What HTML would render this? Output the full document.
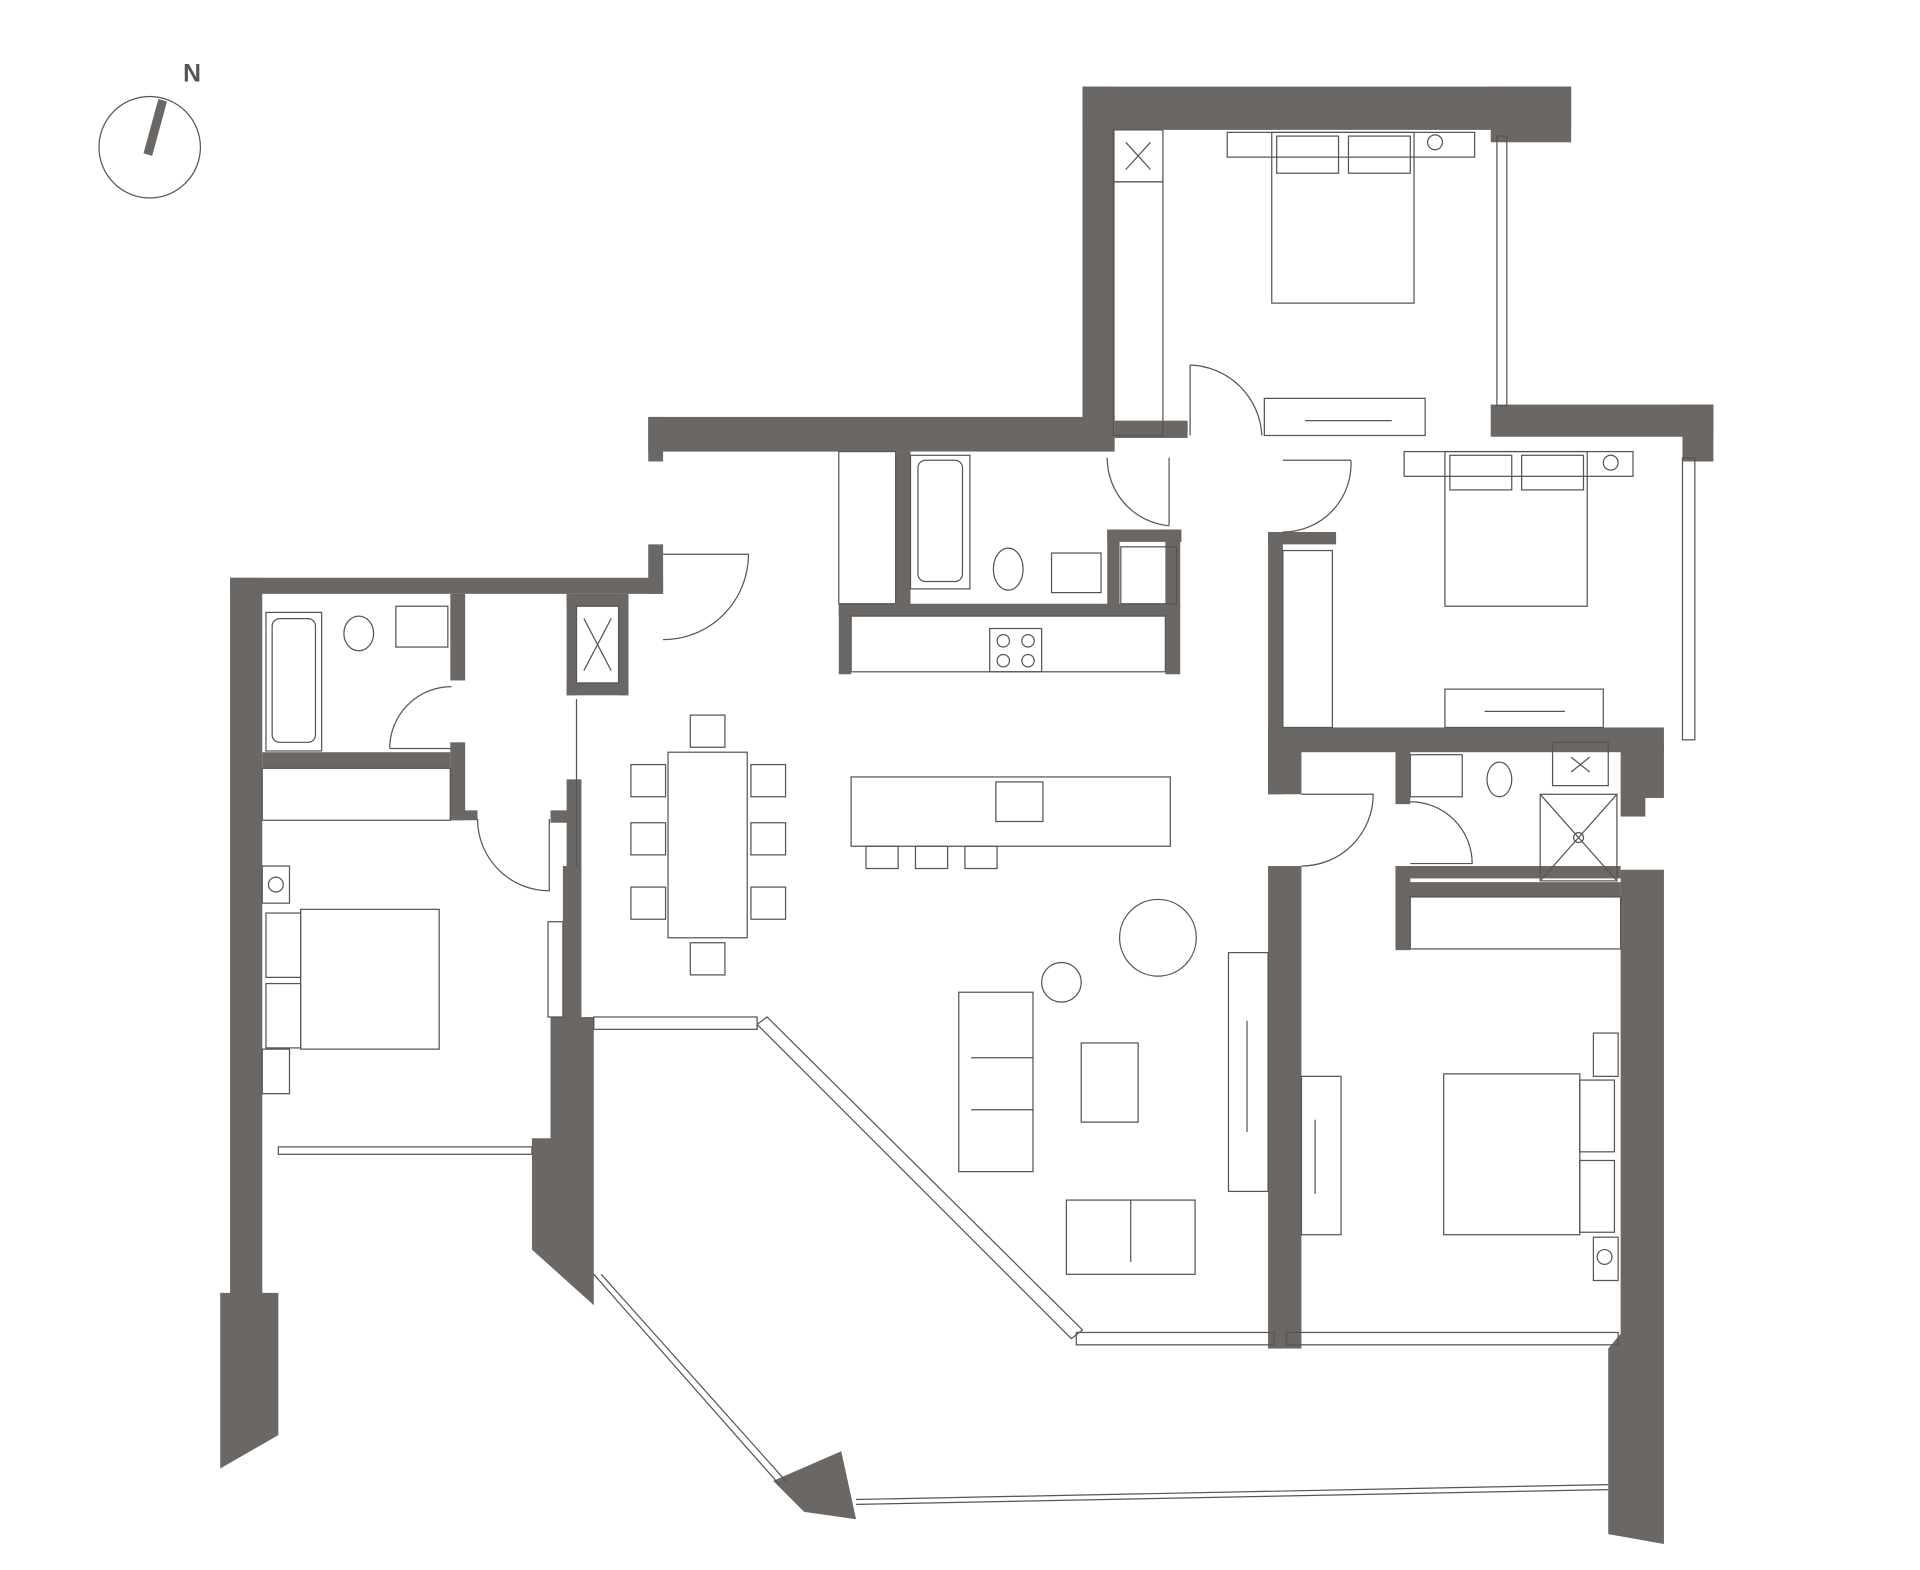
<!DOCTYPE html>
<html><head><meta charset="utf-8"><style>html,body{margin:0;padding:0;background:#fff}svg{display:block}</style></head><body>
<svg width="1920" height="1570" viewBox="0 0 1552 1269" preserveAspectRatio="none" xmlns="http://www.w3.org/2000/svg">
<g fill="#6b6764" stroke="none">
<rect x="875" y="70" width="395" height="35"/>
<rect x="1205" y="70" width="65" height="45"/>
<rect x="875" y="70" width="26" height="282"/>
<rect x="524" y="337" width="377" height="28"/>
<rect x="524" y="337" width="12" height="36"/>
<rect x="901" y="340" width="59" height="14"/>
<rect x="1205" y="327" width="180" height="26"/>
<rect x="1360" y="327" width="25" height="46"/>
<rect x="524" y="440" width="12" height="40"/>
<rect x="186" y="467" width="350" height="13"/>
<rect x="186" y="467" width="26" height="580"/>
<polygon points="178,1045 225,1045 225,1160 178,1187"/>
<rect x="212" y="608" width="152" height="13"/>
<rect x="364" y="480" width="12" height="70"/>
<rect x="364" y="600" width="12" height="63"/>
<rect x="364" y="655" width="22" height="8"/>
<rect x="458" y="480" width="50" height="10"/>
<rect x="458" y="480" width="8" height="82"/>
<rect x="500" y="480" width="8" height="82"/>
<rect x="458" y="552" width="50" height="10"/>
<rect x="445" y="655" width="14" height="10"/>
<polygon points="458,630 470,630 470,822 480,822 480,1055 430,1010 430,920 445,920 445,822 455,822 455,700 458,700"/>
<rect x="678" y="488" width="270" height="10"/>
<rect x="678" y="488" width="10" height="57"/>
<rect x="942" y="488" width="12" height="57"/>
<rect x="724" y="365" width="12" height="125"/>
<rect x="895" y="428" width="60" height="10"/>
<rect x="895" y="428" width="10" height="62"/>
<rect x="942" y="428" width="12" height="62"/>
<rect x="1025" y="430" width="55" height="10"/>
<rect x="1025" y="430" width="12" height="212"/>
<rect x="1025" y="588" width="320" height="20"/>
<rect x="1025" y="588" width="27" height="54"/>
<rect x="1128" y="600" width="12" height="50"/>
<rect x="1320" y="600" width="25" height="45"/>
<rect x="1310" y="600" width="20" height="60"/>
<rect x="1025" y="700" width="27" height="390"/>
<rect x="1128" y="700" width="182" height="10"/>
<rect x="1128" y="700" width="12" height="68"/>
<rect x="1128" y="713" width="182" height="12"/>
<polygon points="1310,703 1345,703 1345,1248 1300,1240 1300,1090 1310,1078"/>
<polygon points="625,1197 680,1173 692,1228 650,1222"/>
<polygon points="128,80 135,82 123,126 116,124"/>
</g>
<g fill="none" stroke="#555" stroke-width="1">
<circle cx="121" cy="119" r="41"/>
<rect x="1210" y="110" width="8" height="218"/>
<rect x="1360" y="370" width="10" height="228"/>
<rect x="225" y="927" width="205" height="6"/>
<rect x="480" y="822" width="132" height="10"/>
<polygon points="612,828 620,822 875,1075 866,1082"/>
<rect x="870" y="1077" width="160" height="10"/>
<rect x="1040" y="1077" width="268" height="10"/>
<line x1="480" y1="1030" x2="630" y2="1200"/><line x1="486" y1="1030" x2="636" y2="1198"/>
<line x1="692" y1="1212" x2="1300" y2="1200"/><line x1="692" y1="1216" x2="1300" y2="1204"/>
<line x1="466" y1="565" x2="466" y2="700"/>
<path d="M536 448 L605 448 A69 69 0 0 1 536 517"/>
<path d="M962 295 L962 352 M962 295 A60 60 0 0 1 1020 352"/>
<path d="M895 370 A55 55 0 0 0 945 425 M945 370 L945 425"/>
<path d="M1092 372 A55 55 0 0 1 1037 430 M1037 372 L1092 372"/>
<path d="M365 555 A50 50 0 0 0 315 605 M315 605 L365 605"/>
<path d="M386 662 A58 58 0 0 0 444 720 L444 662"/>
<path d="M1052 700 A58 58 0 0 0 1110 642 L1052 642"/>
<path d="M1140 648 A50 50 0 0 1 1190 698 L1140 698"/>
<rect x="900" y="105" width="40" height="42"/><path d="M910 115 L930 137 M930 115 L910 137"/>
<rect x="900" y="147" width="40" height="205"/>
<rect x="992" y="107" width="200" height="20"/>
<rect x="1028" y="107" width="115" height="138"/>
<rect x="1032" y="110" width="50" height="30"/><rect x="1090" y="110" width="50" height="30"/>
<circle cx="1160" cy="115" r="6"/>
<rect x="1022" y="322" width="130" height="30"/><line x1="1055" y1="340" x2="1125" y2="340"/>
<rect x="1135" y="365" width="185" height="20"/>
<rect x="1168" y="365" width="115" height="125"/>
<rect x="1172" y="368" width="50" height="28"/><rect x="1230" y="368" width="50" height="28"/>
<circle cx="1302" cy="374" r="6"/>
<rect x="1037" y="445" width="40" height="143"/>
<rect x="1168" y="557" width="128" height="31"/><line x1="1200" y1="575" x2="1265" y2="575"/>
<rect x="678" y="365" width="46" height="123"/>
<rect x="736" y="368" width="48" height="108"/><rect x="742" y="372" width="36" height="98" rx="6"/>
<ellipse cx="815" cy="460" rx="12" ry="17"/>
<rect x="850" y="447" width="40" height="32"/>
<rect x="906" y="442" width="45" height="46"/>
<rect x="688" y="498" width="254" height="45"/>
<rect x="800" y="508" width="42" height="35"/>
<circle cx="811" cy="518" r="5"/><circle cx="831" cy="518" r="5"/><circle cx="811" cy="534" r="5"/><circle cx="831" cy="534" r="5"/>
<rect x="215" y="495" width="45" height="112"/><rect x="220" y="500" width="35" height="100" rx="6"/>
<ellipse cx="290" cy="512" rx="12" ry="14"/>
<rect x="320" y="490" width="42" height="33"/>
<rect x="466" y="490" width="34" height="62"/>
<path d="M472 500 L494 542 M494 500 L472 542"/>
<rect x="212" y="621" width="152" height="42"/>
<rect x="243" y="735" width="112" height="113"/>
<rect x="215" y="738" width="28" height="52"/><rect x="215" y="795" width="28" height="52"/>
<rect x="212" y="700" width="22" height="30"/><circle cx="223" cy="715" r="6"/>
<rect x="212" y="848" width="22" height="36"/>
<rect x="443" y="745" width="12" height="77"/>
<rect x="540" y="608" width="64" height="150"/>
<rect x="558" y="578" width="28" height="26"/><rect x="558" y="762" width="28" height="26"/>
<rect x="510" y="618" width="28" height="26"/><rect x="510" y="665" width="28" height="26"/><rect x="510" y="717" width="28" height="26"/>
<rect x="607" y="618" width="28" height="26"/><rect x="607" y="665" width="28" height="26"/><rect x="607" y="717" width="28" height="26"/>
<rect x="688" y="628" width="258" height="56"/>
<rect x="805" y="632" width="38" height="32"/>
<rect x="700" y="684" width="26" height="18"/><rect x="740" y="684" width="26" height="18"/><rect x="780" y="684" width="26" height="18"/>
<circle cx="936" cy="758" r="31"/><circle cx="858" cy="794" r="16"/>
<rect x="775" y="802" width="60" height="145"/>
<line x1="785" y1="855" x2="835" y2="855"/><line x1="785" y1="897" x2="835" y2="897"/>
<rect x="874" y="843" width="46" height="64"/>
<rect x="862" y="970" width="104" height="60"/><line x1="914" y1="970" x2="914" y2="1020"/>
<rect x="993" y="770" width="32" height="193"/>
<line x1="1008" y1="825" x2="1008" y2="915"/>
<rect x="1140" y="725" width="170" height="42"/>
<rect x="1140" y="610" width="42" height="34"/>
<ellipse cx="1212" cy="630" rx="10" ry="14"/>
<rect x="1255" y="600" width="45" height="35"/><path d="M1270 612 L1285 624 M1285 612 L1270 624"/>
<rect x="1245" y="642" width="62" height="70"/><line x1="1245" y1="642" x2="1307" y2="712"/><line x1="1307" y1="642" x2="1245" y2="712"/><circle cx="1276" cy="677" r="4"/>
<rect x="1167" y="868" width="110" height="130"/>
<rect x="1277" y="873" width="28" height="58"/><rect x="1277" y="938" width="28" height="58"/>
<rect x="1288" y="835" width="20" height="35"/>
<rect x="1288" y="1000" width="20" height="35"/><circle cx="1297" cy="1016" r="6"/>
<rect x="1052" y="870" width="32" height="128"/><line x1="1063" y1="905" x2="1063" y2="965"/>
</g>
<text x="148" y="66" font-family="Liberation Sans, sans-serif" font-weight="bold" font-size="20" fill="#555">N</text>
</svg>
</body></html>
